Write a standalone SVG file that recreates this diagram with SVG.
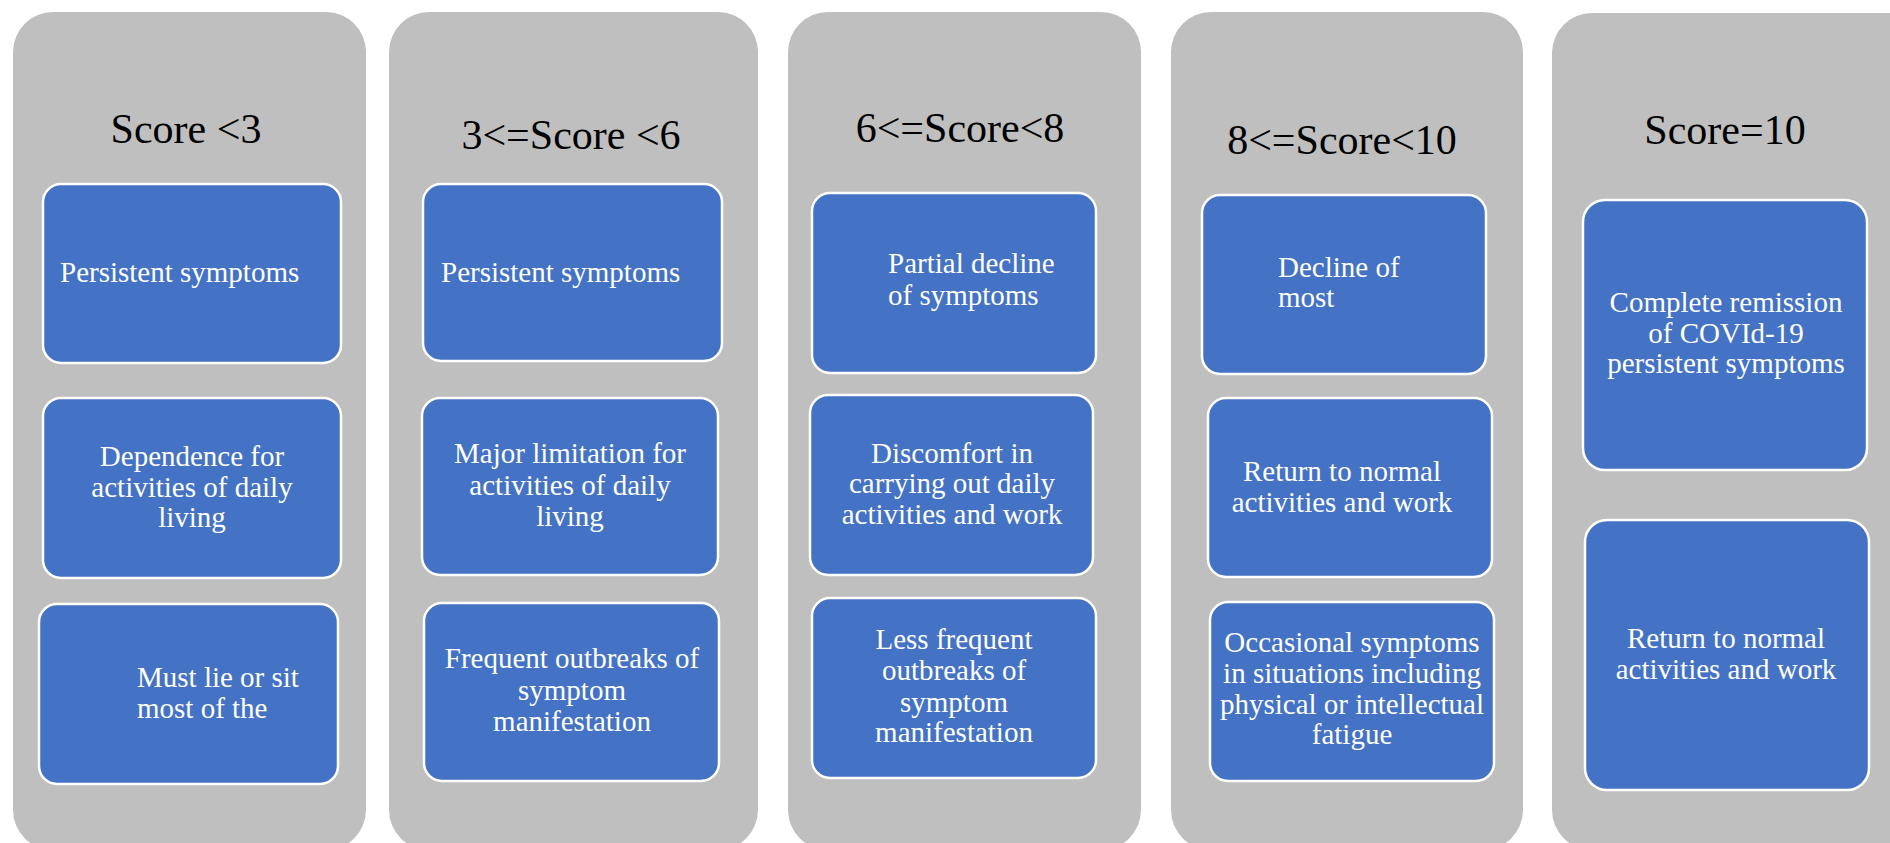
<svg xmlns="http://www.w3.org/2000/svg" width="1890" height="843" viewBox="0 0 1890 843">
<style>
.panel{fill:#BFBFBF}
.box{fill:#4472C4;stroke:#FFFFFF;stroke-width:2.5}
.title{font-family:"Liberation Serif","Times New Roman",serif;font-size:42px;fill:#000000;text-anchor:middle}
.t{font-family:"Liberation Serif","Times New Roman",serif;font-size:29px;fill:#FFFFFF;text-anchor:middle}
.tl{font-family:"Liberation Serif","Times New Roman",serif;font-size:29px;fill:#FFFFFF;text-anchor:start}
</style>
<rect width="1890" height="843" fill="#FFFFFF"/>
<g id="col1">
<rect class="panel" x="13" y="12" width="353" height="838" rx="40"/>
<text class="title" x="186" y="143">Score &lt;3</text>
<g id="c1b1"><rect class="box" x="43" y="184" width="298" height="179" rx="18"/><text class="tl" x="60" y="282">Persistent symptoms</text></g>
<g id="c1b2"><rect class="box" x="43" y="398" width="298" height="180" rx="18"/><text class="t" x="192" y="466">Dependence for</text><text class="t" x="192" y="497">activities of daily</text><text class="t" x="192" y="527">living</text></g>
<g id="c1b3"><rect class="box" x="39" y="604" width="299" height="180" rx="18"/><text class="tl" x="137" y="687">Must lie or sit</text><text class="tl" x="137" y="718">most of the</text></g>
</g>
<g id="col2">
<rect class="panel" x="389" y="12" width="369" height="838" rx="40"/>
<text class="title" x="571" y="149">3&lt;=Score &lt;6</text>
<g id="c2b1"><rect class="box" x="423" y="184" width="299" height="177" rx="18"/><text class="tl" x="441" y="282">Persistent symptoms</text></g>
<g id="c2b2"><rect class="box" x="422" y="398" width="296" height="177" rx="18"/><text class="t" x="570" y="463">Major limitation for</text><text class="t" x="570" y="495">activities of daily</text><text class="t" x="570" y="526">living</text></g>
<g id="c2b3"><rect class="box" x="424" y="603" width="295" height="178" rx="18"/><text class="t" x="572" y="668">Frequent outbreaks of</text><text class="t" x="572" y="700">symptom</text><text class="t" x="572" y="731">manifestation</text></g>
</g>
<g id="col3">
<rect class="panel" x="788" y="12" width="353" height="838" rx="40"/>
<text class="title" x="960" y="142">6&lt;=Score&lt;8</text>
<g id="c3b1"><rect class="box" x="812" y="193" width="284" height="180" rx="18"/><text class="tl" x="888" y="273">Partial decline</text><text class="tl" x="888" y="305">of symptoms</text></g>
<g id="c3b2"><rect class="box" x="810" y="395" width="283" height="180" rx="18"/><text class="t" x="952" y="463">Discomfort in</text><text class="t" x="952" y="493">carrying out daily</text><text class="t" x="952" y="524">activities and work</text></g>
<g id="c3b3"><rect class="box" x="812" y="598" width="284" height="180" rx="18"/><text class="t" x="954" y="649">Less frequent</text><text class="t" x="954" y="680">outbreaks of</text><text class="t" x="954" y="712">symptom</text><text class="t" x="954" y="742">manifestation</text></g>
</g>
<g id="col4">
<rect class="panel" x="1171" y="12" width="352" height="838" rx="40"/>
<text class="title" x="1342" y="154">8&lt;=Score&lt;10</text>
<g id="c4b1"><rect class="box" x="1202" y="195" width="284" height="179" rx="18"/><text class="tl" x="1278" y="277">Decline of</text><text class="tl" x="1278" y="307">most</text></g>
<g id="c4b2"><rect class="box" x="1208" y="398" width="284" height="179" rx="18"/><text class="t" x="1342" y="481">Return to normal</text><text class="t" x="1342" y="512">activities and work</text></g>
<g id="c4b3"><rect class="box" x="1210" y="602" width="284" height="179" rx="18"/><text class="t" x="1352" y="652">Occasional symptoms</text><text class="t" x="1352" y="683">in situations including</text><text class="t" x="1352" y="714">physical or intellectual</text><text class="t" x="1352" y="744">fatigue</text></g>
</g>
<g id="col5">
<rect class="panel" x="1552" y="13" width="380" height="837" rx="40"/>
<text class="title" x="1725" y="144">Score=10</text>
<g id="c5b1"><rect class="box" x="1583" y="200" width="284" height="270" rx="22"/><text class="t" x="1726" y="312">Complete remission</text><text class="t" x="1726" y="343">of COVId-19</text><text class="t" x="1726" y="373">persistent symptoms</text></g>
<g id="c5b2"><rect class="box" x="1585" y="520" width="284" height="270" rx="22"/><text class="t" x="1726" y="648">Return to normal</text><text class="t" x="1726" y="679">activities and work</text></g>
</g>
<g id="connectors"></g>
</svg>
